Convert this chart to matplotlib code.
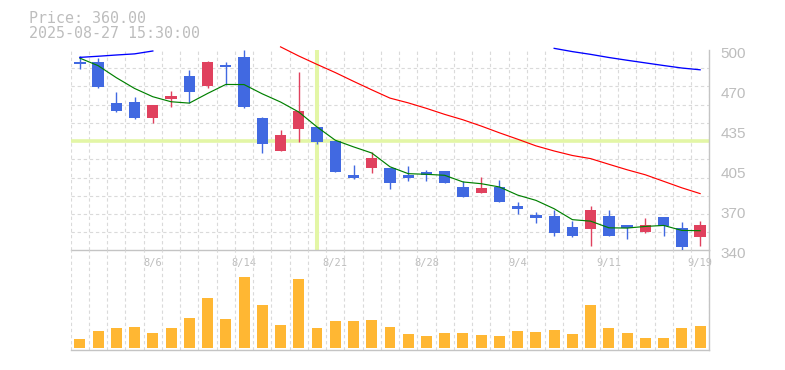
import matplotlib
matplotlib.use('Agg')
import matplotlib.pyplot as plt
import matplotlib.transforms as mtransforms
import numpy as np

nan = np.nan

# ---- data ----
dates = ['7/31', '8/1', '8/4', '8/5', '8/6', '8/7', '8/8', '8/12', '8/13', '8/14',
         '8/15', '8/18', '8/19', '8/20', '8/21', '8/22', '8/25', '8/26', '8/27', '8/28',
         '8/29', '9/1', '9/2', '9/3', '9/4', '9/5', '9/8', '9/9', '9/10', '9/11',
         '9/12', '9/16', '9/17', '9/18', '9/19']

opens = [490.4, 490.4, 457.6, 458.4, 445.6, 460.8, 479.2, 471.2, 488.3, 494.4,
         445.6, 419.5, 436.8, 438.4, 427.2, 400.0, 405.9, 405.6, 400.3, 402.4,
         403.2, 390.4, 385.6, 390.4, 375.2, 368.0, 367.2, 358.4, 357.0, 367.2,
         360.0, 354.7, 366.4, 357.6, 350.7]
highs = [495.2, 493.3, 466.4, 462.4, 456.0, 467.2, 484.0, 491.2, 490.4, 500.0,
         446.4, 436.0, 482.4, 438.4, 427.2, 408.0, 418.4, 405.6, 407.2, 404.0,
         403.2, 395.2, 398.7, 396.0, 378.4, 370.4, 372.5, 363.2, 375.5, 372.0,
         360.0, 365.9, 366.4, 362.4, 363.2]
lows = [485.0, 470.0, 450.7, 444.8, 441.9, 454.7, 457.3, 469.9, 472.0, 453.6,
        417.9, 419.5, 426.7, 425.0, 402.7, 397.1, 401.9, 389.0, 395.5, 395.5,
        393.9, 382.7, 385.6, 378.7, 369.0, 361.9, 351.5, 350.7, 343.5, 351.5,
        349.0, 353.9, 351.5, 340.0, 343.5]
closes = [489.0, 470.7, 451.5, 445.6, 456.0, 463.2, 466.7, 490.4, 486.7, 454.7,
          425.0, 432.0, 451.2, 426.7, 402.7, 397.9, 413.6, 393.9, 397.9, 400.3,
          393.9, 382.7, 389.6, 378.7, 373.1, 366.1, 353.9, 351.5, 372.0, 351.5,
          357.9, 360.0, 359.7, 342.7, 360.0]

ma5 = [493.5, 487.5, 477.9, 469.3, 462.7, 458.7, 457.6, 465.3, 472.5, 472.4,
       465.0, 458.5, 450.5, 438.6, 428.0, 422.7, 417.8, 406.8, 401.3, 400.8,
       400.0, 394.7, 393.3, 390.7, 384.2, 380.0, 373.3, 364.6, 363.4, 358.1,
       357.9, 359.2, 360.0, 356.0, 355.8]
ma25 = [nan, nan, nan, nan, nan, nan, nan, nan, nan, nan,
        nan, 502.5, 495.2, 488.5, 482.0, 475.0, 468.2, 461.6, 457.8, 453.4,
        448.6, 444.3, 439.3, 433.9, 428.8, 423.5, 419.4, 415.8, 413.3, 408.8,
        404.4, 400.4, 395.2, 390.0, 385.4]
ma75 = [494.1, 495.0, 496.0, 496.9, 499.2, nan, nan, nan, nan, nan,
        nan, nan, nan, nan, nan, nan, nan, nan, nan, nan,
        nan, nan, nan, nan, nan, nan, 501.3, 498.7, 496.5, 494.0,
        491.8, 489.7, 487.6, 485.6, 484.2]

volume = [9, 17, 20, 21, 15, 20, 30, 50, 29, 71,
          43, 23, 69, 20, 27, 27, 28, 21, 14, 12,
          15, 15, 13, 12, 17, 16, 18, 14, 43, 20,
          15, 10, 10, 20, 22]

date_ticks = ['8/6', '8/14', '8/21', '8/28', '9/4', '9/11', '9/19']
price_tick_labels = ['340', '370', '405', '435', '470', '500']

header_price = 'Price: 360.00'
header_time = '2025-08-27 15:30:00'
cross_date = '8/20'
cross_price = 427.2

# ---- styling ----
UP = '#e0415e'
DOWN = '#4169e1'
GRID = '#dadada'
SPINE = '#c4c4c4'
TXT = '#bdbdbd'
CROSS = '#e3f6a6'
VOL = '#ffb733'

x = np.arange(len(dates))
o = np.array(opens); c = np.array(closes)
h = np.array(highs); l = np.array(lows)
up = c >= o
cols = [UP if u else DOWN for u in up]

fig = plt.figure(figsize=(7.85, 3.7), dpi=100)
ax = fig.add_axes([0.0901, 0.3230, 0.8134, 0.5419])
axv = fig.add_axes([0.0901, 0.0541, 0.8134, 0.2689])

for a in (ax, axv):
    a.set_xlim(-0.5, len(dates) - 0.5)
    a.set_xticks(np.arange(-0.5, len(dates), 1.0), minor=True)
    a.grid(which='minor', axis='x', color=GRID, linestyle=(0, (3, 2.5)), linewidth=0.8)
    a.set_axisbelow(True)
    for s in ('left', 'top'):
        a.spines[s].set_visible(False)
    for s in ('right', 'bottom'):
        a.spines[s].set_color(SPINE)
        a.spines[s].set_linewidth(1.0)
    a.tick_params(which='both', length=0)

# price panel
ax.set_ylim(340, 500)
ax.set_yticks(np.linspace(340, 500, 12), minor=True)
ax.grid(which='minor', axis='y', color=GRID, linestyle=(0, (3, 2.5)), linewidth=0.8)
ax.set_yticks(np.linspace(340, 500, len(price_tick_labels)))
ax.set_yticklabels(price_tick_labels)
ax.yaxis.tick_right()
ax.tick_params(axis='y', which='major', labelsize=11, labelcolor=TXT, pad=8)
shift = mtransforms.ScaledTranslation(0, -0.025, fig.dpi_scale_trans)
for t in ax.get_yticklabels():
    t.set_family('Liberation Sans')
    t.set_transform(t.get_transform() + shift)
ax.set_xticks([dates.index(d) for d in date_ticks])
ax.set_xticklabels(date_ticks)
ax.tick_params(axis='x', which='major', labelsize=7.5, labelcolor=TXT, pad=5.5)
for t in ax.get_xticklabels():
    t.set_family('DejaVu Sans Mono')

# crosshair
ci = dates.index(cross_date)
ax.axhline(cross_price, color=CROSS, linewidth=2.6, zorder=1)
ax.axvline(ci, ymin=0.01, ymax=0.995, color=CROSS, linewidth=2.9, zorder=1)

# candles
ax.vlines(x, l, h, colors=cols, linewidth=1.0, zorder=3)
body_bottom = np.minimum(o, c)
body_h = np.maximum(np.abs(c - o), 1.2)
ax.bar(x, body_h, bottom=body_bottom, width=0.62, color=cols, linewidth=0, zorder=4)

# moving averages
ax.plot(x, ma5, color='#008000', linewidth=0.85, zorder=5, clip_on=False)
ax.plot(x, ma25, color='#ff0000', linewidth=0.85, zorder=5, clip_on=False)
ax.plot(x, ma75, color='#0000ff', linewidth=0.95, zorder=5, clip_on=False)

# volume panel
axv.patch.set_visible(False)
axv.set_ylim(-2, 97.5)
axv.set_yticks([])
axv.set_xticks([])
axv.bar(x, volume, width=0.6, color=VOL, linewidth=0, zorder=3)

# header text
fig.text(29 / 785, 1 - 22.7 / 370, header_price, family='DejaVu Sans Mono',
         fontsize=10.8, color=TXT, va='baseline', ha='left')
fig.text(29 / 785, 1 - 37.7 / 370, header_time, family='DejaVu Sans Mono',
         fontsize=10.8, color=TXT, va='baseline', ha='left')

fig.savefig('out.png', dpi=100)
